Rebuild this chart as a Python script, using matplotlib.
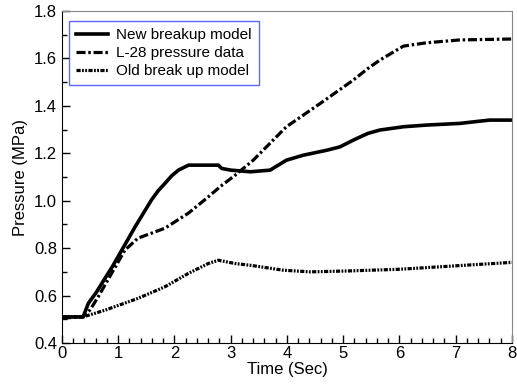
import numpy as np
import matplotlib
matplotlib.use("Agg")
import matplotlib.pyplot as plt

plt.rcParams['font.family'] = ['Liberation Sans', 'DejaVu Sans']
plt.rcParams['lines.scale_dashes'] = False

# new breakup model (solid)
t_new = [0, 0.375, 0.47, 0.6, 0.91, 1.30, 1.59, 1.71, 1.83, 1.95, 2.07, 2.25, 2.78, 2.84, 3.0,
         3.35, 3.70, 3.99, 4.29, 4.71, 4.94, 5.2, 5.44, 5.65, 6.07, 6.48, 7.07, 7.6, 8.0]
p_new = [0.51, 0.51, 0.568, 0.61, 0.728, 0.890, 1.003, 1.042, 1.073, 1.105, 1.129, 1.150, 1.150, 1.136, 1.129,
         1.122, 1.129, 1.171, 1.192, 1.213, 1.227, 1.258, 1.284, 1.298, 1.312, 1.319, 1.326, 1.34, 1.34]

# L-28 pressure data (dash-dot)
t_l28 = [0, 0.375, 0.5, 0.645, 0.88, 1.12, 1.35, 1.83, 2.25, 2.6, 2.81, 3.08, 3.40,
         3.99, 4.59, 5.18, 5.44, 5.65, 6.07, 6.48, 7.07, 8.0]
p_l28 = [0.505, 0.51, 0.54, 0.595, 0.693, 0.792, 0.842, 0.884, 0.948, 1.016, 1.059, 1.108, 1.171,
         1.312, 1.41, 1.509, 1.558, 1.593, 1.652, 1.666, 1.678, 1.682]

# old break up model (dash-dot-dot)
t_old = [0, 0.375, 0.76, 1.35, 1.83, 2.25, 2.6, 2.78, 3.08, 3.34, 3.93, 4.41, 5.12, 6.01, 6.9, 8.0]
p_old = [0.51, 0.51, 0.538, 0.588, 0.637, 0.694, 0.735, 0.749, 0.735, 0.728, 0.707, 0.700, 0.704, 0.711, 0.724, 0.740]

fig = plt.figure(figsize=(5.17, 3.88), dpi=100)
ax = fig.add_axes([0.1199, 0.116, 0.8704, 0.8556])

ax.plot(t_new, p_new, color='k', lw=2.6, label='New breakup model')
l2, = ax.plot(t_l28, p_l28, color='k', lw=2.3, label='L-28 pressure data')
l2.set_dashes([6.5, 2, 1.8, 2])
l3, = ax.plot(t_old, p_old, color='k', lw=2.3, label='Old break up model')
l3.set_dashes([3, 1, 1.3, 1, 1.3, 1])

ax.set_xlim(0, 8)
ax.set_ylim(0.4, 1.8)
ax.set_xticks(np.arange(0, 9, 1))
ax.set_xticks(np.arange(0, 8.01, 0.2), minor=True)
ax.set_yticks(np.arange(0.4, 1.81, 0.2))
ax.set_yticks(np.arange(0.4, 1.81, 0.1), minor=True)
ax.set_yticklabels(['0.4', '0.6', '0.8', '1.0', '1.2', '1.4', '1.6', '1.8'])
ax.tick_params(which='both', direction='in', top=False, right=False, labelsize=12)
ax.tick_params(which='major', length=6, width=1)
ax.tick_params(which='minor', length=3.5, width=1)
ax.tick_params(axis='x', pad=2)

for s in ['top', 'right']:
    ax.spines[s].set_color('#888888')
for s in ['left', 'bottom']:
    ax.spines[s].set_color('k')

ax.set_xlabel('Time (Sec)', fontsize=12, labelpad=1)
ax.set_ylabel('Pressure (MPa)', fontsize=12, labelpad=4)

leg = ax.legend(loc='upper left', bbox_to_anchor=(0.0155, 0.97), borderaxespad=0,
                fontsize=11, fancybox=False, handlelength=2.1, handletextpad=0.55,
                labelspacing=0.28, borderpad=0.45)
leg.get_frame().set_edgecolor('#3c3cff')
leg.get_frame().set_linewidth(1.0)

fig.savefig('out.png', dpi=100)
